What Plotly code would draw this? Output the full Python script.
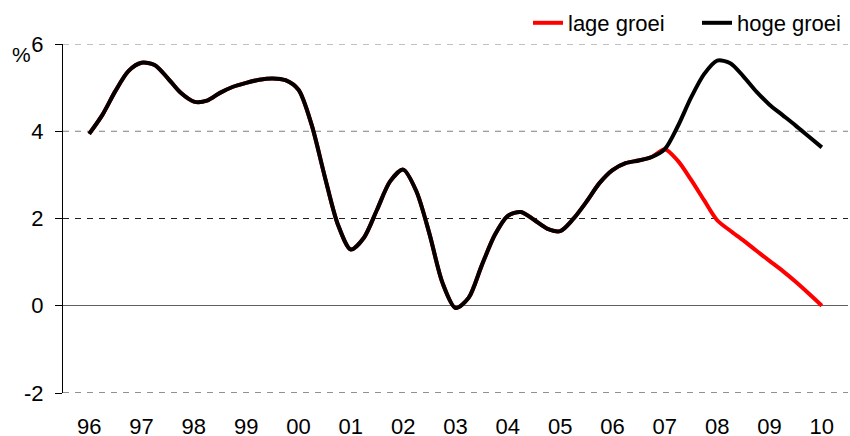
import plotly.graph_objects as go

# Quarterly periods 1996Q1 .. 2010Q1
quarters = [f"{y}Q{q}" for y in range(1996, 2010) for q in range(1, 5)] + ["2010Q1"]

history = [
    3.94, 4.37, 4.92, 5.38,   # 1996
    5.57, 5.52, 5.22, 4.88,   # 1997
    4.68, 4.70, 4.88, 5.02,   # 1998
    5.11, 5.18, 5.21, 5.17,   # 1999
    4.95, 4.15, 2.97, 1.87,   # 2000
    1.29, 1.56, 2.20, 2.85,   # 2001
    3.12, 2.63, 1.66, 0.53,   # 2002
    -0.05, 0.18, 0.92, 1.62,  # 2003
    2.06, 2.15, 1.97, 1.77,   # 2004
    1.71, 1.99, 2.38, 2.81,   # 2005
    3.11, 3.27, 3.33, 3.41,   # 2006
    3.59,                     # 2007Q1
]
low_path = [3.32, 2.89, 2.42, 1.96, 1.72, 1.50, 1.26, 1.03, 0.80, 0.55, 0.28, 0.00]
high_path = [4.12, 4.77, 5.31, 5.62, 5.56, 5.26, 4.91, 4.61, 4.37, 4.13, 3.88, 3.63]

lage_groei = history + low_path
hoge_groei = history + high_path

tick_quarters = [f"{y}Q1" for y in range(1996, 2011)]
tick_labels = ["96", "97", "98", "99", "00", "01", "02", "03", "04", "05",
               "06", "07", "08", "09", "10"]
y_ticks = [-2, 0, 2, 4, 6]
y_tick_labels = ["-2", "0", "2", "4", "6"]
grid_dark = [-2, 2]
grid_light = [4, 6]

FONT = "Liberation Sans, Arial, sans-serif"

fig = go.Figure()
fig.add_trace(go.Scatter(x=quarters, y=lage_groei, name="lage groei", mode="lines",
                         legend="legend", hoverinfo="skip",
                         line=dict(color="#ff0000", width=4, shape="spline", smoothing=0.8)))
fig.add_trace(go.Scatter(x=quarters, y=hoge_groei, name="hoge groei", mode="lines",
                         legend="legend2", hoverinfo="skip",
                         line=dict(color="#000000", width=4, shape="spline", smoothing=0.8)))

shapes = []
for v in grid_light:
    shapes.append(dict(type="line", xref="paper", yref="y", x0=0, x1=1, y0=v, y1=v,
                       line=dict(color="#808080", width=1, dash="6px,6px"), layer="below"))
for v in grid_dark:
    shapes.append(dict(type="line", xref="paper", yref="y", x0=0, x1=1, y0=v, y1=v,
                       line=dict(color="#202020", width=1, dash="6px,6px"), layer="below"))

legend_common = dict(orientation="h", xanchor="left", yanchor="middle",
                     xref="container", yref="container", y=1 - 23 / 436,
                     font=dict(family=FONT, size=22), bgcolor="rgba(0,0,0,0)",
                     itemclick=False, itemdoubleclick=False)

fig.update_layout(
    width=850, height=436,
    margin=dict(l=63, r=2, t=44, b=43, autoexpand=False),
    paper_bgcolor="white", plot_bgcolor="white",
    font=dict(family=FONT, size=22, color="black"),
    showlegend=True,
    legend=dict(x=528 / 850, **legend_common),
    legend2=dict(x=697 / 850, **legend_common),
    shapes=shapes,
    annotations=[dict(text="%", xref="paper", yref="paper", x=-42 / 785, y=1 - 10 / 349,
                      xanchor="center", yanchor="middle", showarrow=False,
                      font=dict(family=FONT, size=21))],
)
fig.update_xaxes(type="category", categoryorder="array", categoryarray=quarters,
                 range=[-2, 58], tickmode="array", tickvals=tick_quarters, ticktext=tick_labels,
                 showgrid=False, zeroline=False, showline=False, ticks="",
                 ticklabelstandoff=18, tickfont=dict(family=FONT, size=22))
fig.update_yaxes(range=[-2, 6], tickmode="array", tickvals=y_ticks, ticktext=y_tick_labels,
                 showgrid=False, zeroline=True, zerolinecolor="#606060", zerolinewidth=1,
                 showline=True, linecolor="black", linewidth=1,
                 ticks="outside", ticklen=7, tickcolor="black", tickwidth=1,
                 ticklabelstandoff=7, tickfont=dict(family=FONT, size=22))

fig.write_html("out.html", config={"displayModeBar": False},
               post_script="document.body.style.margin='0px';")
